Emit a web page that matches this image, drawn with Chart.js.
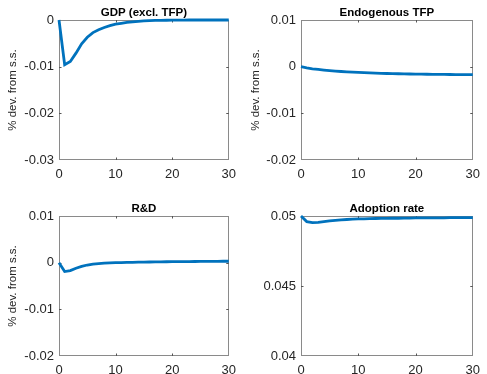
<!DOCTYPE html>
<html>
<head>
<meta charset="utf-8">
<script src="https://cdn.jsdelivr.net/npm/chart.js@4.4.1/dist/chart.umd.min.js"></script>
<style>
  html, body { margin: 0; padding: 0; background: #fff; }
  #wrap { position: relative; width: 487px; height: 374px; overflow: hidden; }
  canvas { position: absolute; }
</style>
</head>
<body>
<div id="wrap">
  <canvas id="gdp" width="243" height="187" style="left:0;top:0"></canvas>
  <canvas id="tfp" width="244" height="187" style="left:243px;top:0"></canvas>
  <canvas id="rnd" width="243" height="187" style="left:0;top:187px"></canvas>
  <canvas id="adopt" width="244" height="187" style="left:243px;top:187px"></canvas>
</div>
<script>
// impulse responses, quarters after the shock
const periods = Array.from({ length: 31 }, (_, i) => i);

const gdpExclTfp = [0, -0.0096, -0.0089, -0.0071, -0.0051, -0.0037, -0.0027, -0.0021, -0.0016, -0.0012,
  -0.0009, -0.0007, -0.0005, -0.0004, -0.0003, -0.0002, -0.00015, -0.0001, -0.00007, -0.00005,
  -0.00003, -0.00002, -0.00001, 0, 0, 0, 0, 0, 0, 0, 0];
const endogTfp = [0, -0.00025, -0.00045, -0.0006, -0.00074, -0.00086, -0.00096, -0.00104, -0.00112, -0.00118,
  -0.00124, -0.00129, -0.00134, -0.00138, -0.00142, -0.00146, -0.00149, -0.00152, -0.00155, -0.00157,
  -0.00159, -0.00161, -0.00163, -0.00164, -0.00166, -0.00167, -0.00168, -0.00169, -0.0017, -0.00171, -0.00172];
const rnd = [0, -0.0019, -0.0017, -0.0012, -0.0008, -0.0005, -0.0003, -0.0002, -0.0001, -0.00005,
  0, 0.00003, 0.00006, 0.00008, 0.0001, 0.00012, 0.00014, 0.00016, 0.00018, 0.0002,
  0.00021, 0.00022, 0.00023, 0.00024, 0.00025, 0.00026, 0.00027, 0.00028, 0.00029, 0.0003, 0.0003];
const adoptionRate = [0.05, 0.0496, 0.04953, 0.04955, 0.0496, 0.04965, 0.04969, 0.04972, 0.04975, 0.04977,
  0.04979, 0.0498, 0.04981, 0.04982, 0.04983, 0.04983, 0.04984, 0.04984, 0.04985, 0.04985,
  0.04986, 0.04986, 0.04986, 0.04987, 0.04987, 0.04987, 0.04988, 0.04988, 0.04988, 0.04988, 0.04988];

const xTicks = [0, 10, 20, 30];
const gdpTicks = [-0.03, -0.02, -0.01, 0];
const devTicks = [-0.02, -0.01, 0, 0.01];
const adoptTicks = [0.04, 0.045, 0.05];

const yLabel = '% dev. from s.s.';
const axisColor = '#262626';
const lineColor = '#0072BD';
const font = '"Liberation Sans", Arial, Helvetica, sans-serif';

function panel(id, title, ylabel, values, yTicks, box) {
  // box: y-axis width, x-axis height, space above and right of the axes
  const frame = {
    id: 'frame',
    beforeDatasetsDraw(chart) {
      const { ctx, chartArea: a, scales } = chart;
      ctx.save();
      ctx.strokeStyle = '#8a8a8a';
      ctx.lineWidth = 1;
      ctx.strokeRect(Math.round(a.left) + 0.5, Math.round(a.top) + 0.5,
        Math.round(a.right - a.left) - 1, Math.round(a.bottom - a.top) - 1);
      ctx.strokeStyle = '#555';
      ctx.beginPath();
      for (const v of xTicks.slice(1, -1)) {
        const px = Math.round(scales.x.getPixelForValue(v)) + 0.5;
        ctx.moveTo(px, a.top); ctx.lineTo(px, a.top + 2.5);
        ctx.moveTo(px, a.bottom); ctx.lineTo(px, a.bottom - 2.5);
      }
      for (const v of yTicks.slice(1, -1)) {
        const py = Math.round(scales.y.getPixelForValue(v)) + 0.5;
        ctx.moveTo(a.left, py); ctx.lineTo(a.left + 2.5, py);
        ctx.moveTo(a.right, py); ctx.lineTo(a.right - 2.5, py);
      }
      ctx.stroke();
      ctx.restore();
    },
    afterDraw(chart) {
      const { ctx, chartArea: a } = chart;
      ctx.save();
      ctx.fillStyle = '#000';
      ctx.font = 'bold 11.5px ' + font;
      ctx.textAlign = 'center';
      ctx.textBaseline = 'middle';
      ctx.fillText(title, (a.left + a.right) / 2, a.top - 7);
      if (ylabel) {
        ctx.fillStyle = axisColor;
        ctx.font = '11.5px ' + font;
        ctx.translate(13, (a.top + a.bottom) / 2);
        ctx.rotate(-Math.PI / 2);
        ctx.fillText(ylabel, 0, 0);
      }
      ctx.restore();
    }
  };

  return new Chart(document.getElementById(id), {
    type: 'line',
    data: {
      datasets: [{
        data: periods.map((t, i) => ({ x: t, y: values[i] })),
        borderColor: lineColor,
        borderWidth: 2.8,
        pointRadius: 0,
        tension: 0,
        clip: false
      }]
    },
    options: {
      responsive: false,
      animation: false,
      devicePixelRatio: 1,
      layout: { padding: { left: 0, top: box.top, right: box.right, bottom: 0 } },
      plugins: { legend: { display: false }, tooltip: { enabled: false } },
      scales: {
        x: {
          type: 'linear',
          min: 0, max: 30,
          afterBuildTicks: s => { s.ticks = xTicks.map(v => ({ value: v })); },
          afterFit: s => { s.height = box.xh; },
          grid: { display: false, drawTicks: false },
          border: { display: false },
          ticks: { color: axisColor, padding: 7, maxRotation: 0, font: { family: font, size: 13 }, callback: v => String(v) }
        },
        y: {
          min: yTicks[0], max: yTicks[yTicks.length - 1],
          afterBuildTicks: s => { s.ticks = yTicks.map(v => ({ value: v })); },
          afterFit: s => { s.width = box.yw; },
          grid: { display: false, drawTicks: false },
          border: { display: false },
          ticks: { color: axisColor, padding: 5, font: { family: font, size: 13 }, callback: v => String(v) }
        }
      }
    },
    plugins: [frame]
  });
}

panel('gdp', 'GDP (excl. TFP)', yLabel, gdpExclTfp, gdpTicks, { yw: 59, xh: 27, top: 20, right: 6 });
panel('tfp', 'Endogenous TFP', yLabel, endogTfp, devTicks, { yw: 58, xh: 27, top: 20, right: 8 });
panel('rnd', 'R&D', yLabel, rnd, devTicks, { yw: 59, xh: 18, top: 29, right: 6 });
panel('adopt', 'Adoption rate', null, adoptionRate, adoptTicks, { yw: 58, xh: 18, top: 29, right: 8 });
</script>
</body>
</html>
